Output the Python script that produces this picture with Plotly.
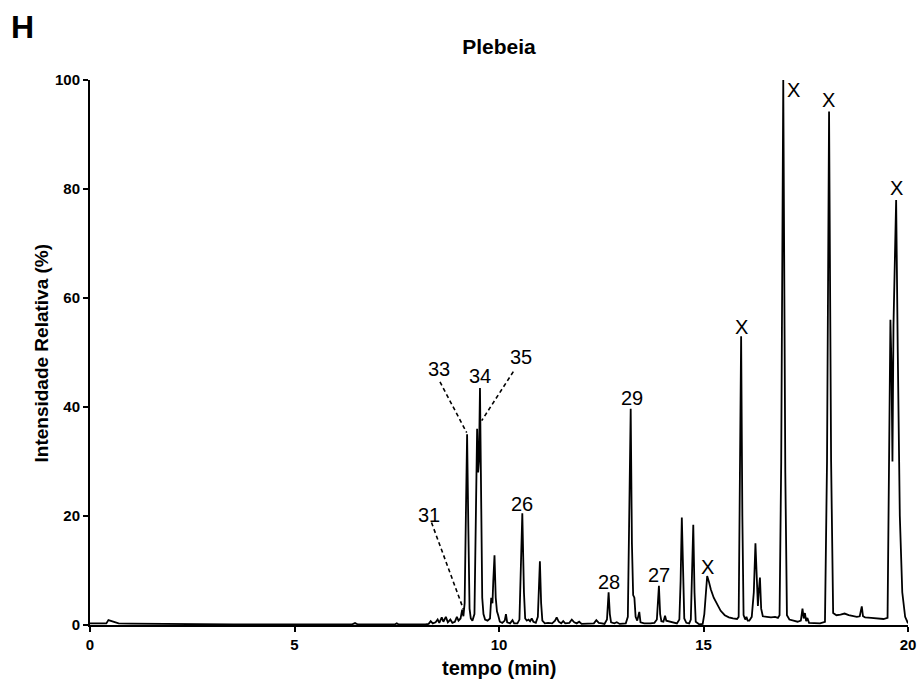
import plotly.graph_objects as go

# ---- chromatogram ----
time_min = [
    0.00, 0.40, 0.45, 0.50, 0.58, 0.70, 1.00, 1.50, 2.50, 3.50, 4.50, 5.50, 6.40, 6.48, 6.55, 7.00, 7.45, 7.50, 7.55, 8.20,
    8.28, 8.33, 8.38, 8.45, 8.50, 8.54, 8.60, 8.64, 8.70, 8.75, 8.81, 8.86, 8.92, 8.97, 9.01, 9.06, 9.10, 9.13,
    9.16, 9.19, 9.22, 9.25, 9.28, 9.31, 9.35,
    9.40, 9.43, 9.465, 9.49, 9.51, 9.535, 9.56, 9.59, 9.62,
    9.66, 9.72, 9.78, 9.81, 9.84,
    9.86, 9.89, 9.92, 9.95, 9.98, 10.02, 10.08, 10.14, 10.17, 10.20, 10.27, 10.33, 10.37, 10.45, 10.50,
    10.53, 10.57, 10.61, 10.64, 10.68, 10.72, 10.76, 10.80, 10.84, 10.90, 10.95,
    10.97, 11.00, 11.03, 11.06, 11.12, 11.20, 11.30, 11.37, 11.41, 11.46, 11.52, 11.57, 11.62, 11.72, 11.78, 11.84,
    11.90, 11.96, 12.02, 12.20, 12.32, 12.38, 12.44, 12.52, 12.58, 12.64,
    12.66, 12.68, 12.71, 12.74, 12.82, 12.88, 12.95, 13.10, 13.15,
    13.18, 13.22, 13.25, 13.28, 13.31, 13.34, 13.38, 13.43, 13.46, 13.55, 13.70, 13.80, 13.86,
    13.89, 13.91, 13.94, 13.97, 14.02, 14.06, 14.09, 14.15, 14.25, 14.35, 14.41,
    14.44, 14.47, 14.50, 14.53, 14.58, 14.65, 14.69,
    14.72, 14.75, 14.78, 14.81, 14.90, 14.98, 15.02,
    15.05, 15.09, 15.13, 15.18, 15.25, 15.33, 15.42, 15.52, 15.62, 15.72, 15.82,
    15.86, 15.89, 15.92, 15.95, 15.98, 16.02, 16.05, 16.08, 16.12, 16.18,
    16.23, 16.27, 16.30, 16.33, 16.35, 16.38, 16.41, 16.45, 16.55, 16.65, 16.75, 16.82, 16.86,
    16.90, 16.95, 17.00, 17.04, 17.10, 17.20, 17.30, 17.38, 17.42, 17.45, 17.48, 17.51, 17.54, 17.58, 17.70, 17.85, 17.97,
    18.02, 18.07, 18.12, 18.17, 18.25, 18.35, 18.45, 18.55, 18.65, 18.75, 18.82,
    18.85, 18.87, 18.90, 18.95, 19.10, 19.25, 19.40, 19.50,
    19.53, 19.57, 19.595, 19.62, 19.645, 19.68, 19.71, 19.75, 19.80, 19.86, 19.93, 20.00,
]
intensity = [
    0.3, 0.3, 0.9, 0.8, 0.5, 0.3, 0.25, 0.2, 0.1, 0.1, 0.1, 0.1, 0.1, 0.35, 0.1, 0.1, 0.1, 0.3, 0.1, 0.1,
    0.2, 0.7, 0.3, 0.5, 1.0, 0.4, 1.4, 0.6, 1.5, 0.5, 1.0, 0.4, 0.6, 1.5, 0.8, 1.2, 2.8, 1.6,
    4.0, 20.0, 35.0, 18.0, 3.0, 1.2, 0.8,
    2.0, 15.0, 36.0, 28.0, 30.0, 43.5, 22.0, 5.0, 2.0,
    1.0, 0.8, 1.2, 5.0, 4.0,
    8.0, 12.8, 5.0, 2.5, 1.8, 0.6, 0.4, 0.8, 2.0, 0.5, 0.3, 0.9, 0.3, 0.3, 1.0,
    8.0, 20.5, 6.0, 1.2, 0.8, 1.0, 0.7, 1.2, 0.6, 0.4, 1.5,
    6.0, 11.7, 4.0, 0.8, 0.3, 0.4, 0.3, 0.8, 1.4, 0.6, 0.3, 0.7, 0.3, 0.4, 1.0, 0.5,
    0.3, 0.6, 0.2, 0.2, 0.3, 0.9, 0.4, 0.3, 0.2, 1.0,
    4.0, 6.0, 2.0, 0.5, 0.3, 0.5, 0.2, 0.3, 1.5,
    20.0, 39.7, 15.0, 5.5, 5.0, 1.5, 0.8, 2.4, 0.5, 0.3, 0.3, 0.4, 1.0,
    5.0, 7.2, 2.0, 0.7, 0.6, 1.7, 0.8, 0.7, 0.5, 0.3, 1.0,
    8.0, 19.7, 8.0, 1.2, 0.4, 0.3, 1.0,
    8.0, 18.4, 6.0, 0.6, 0.1, 0.2, 2.0,
    6.0, 9.0, 8.0, 6.5, 5.0, 3.8, 2.6, 1.8, 1.4, 1.2, 1.1,
    1.5, 22.0, 53.0, 20.0, 1.8, 1.0, 1.5, 0.8, 0.8, 1.5,
    6.0, 15.0, 7.0, 3.5, 6.0, 8.7, 3.0, 1.6, 1.5, 1.4, 1.5, 1.3, 1.8,
    30.0, 100.0, 28.0, 1.8, 1.0, 0.8, 0.6, 0.8, 3.0, 1.2, 2.2, 0.7, 1.3, 0.4, 0.3, 0.3, 0.6,
    30.0, 94.2, 30.0, 2.2, 1.8, 1.9, 2.1, 1.8, 1.7, 1.5, 1.6,
    3.0, 3.4, 1.6, 1.4, 1.3, 1.2, 1.1, 1.3,
    25.0, 56.0, 48.0, 30.0, 55.0, 72.0, 78.0, 50.0, 20.0, 6.0, 1.5, 0.3,
]

# ---- peak labels ----
label_text = ["31", "33", "34", "35", "26", "28", "29", "27", "X", "X", "X", "X", "X"]
label_time = [8.30, 8.53, 9.535, 10.53, 10.55, 12.68, 13.24, 13.92, 15.09, 15.92, 17.19, 18.05, 19.71]
label_int = [20.2, 46.9, 45.7, 49.1, 22.2, 7.8, 41.6, 9.1, 10.7, 54.7, 98.2, 96.3, 80.1]

# ---- dashed leader lines (label -> peak) ----
leader_x0 = [8.35, 8.557, 10.35]
leader_y0 = [18.8, 44.6, 46.5]
leader_x1 = [9.13, 9.21, 9.577]
leader_y1 = [2.9, 35.3, 37.5]

x_ticks = [0, 5, 10, 15, 20]
y_ticks = [0, 20, 40, 60, 80, 100]

FONT = "Liberation Sans, Arial, Helvetica, sans-serif"

fig = go.Figure()
fig.add_trace(go.Scatter(
    x=time_min, y=intensity, mode="lines",
    line=dict(color="black", width=1.8),
    hoverinfo="skip", showlegend=False,
))

for t, xx, yy in zip(label_text, label_time, label_int):
    fig.add_annotation(x=xx, y=yy, xref="x", yref="y", text=t, showarrow=False,
                       xanchor="center", yanchor="middle",
                       font=dict(family=FONT, size=20, color="black"))

for x0, y0, x1, y1 in zip(leader_x0, leader_y0, leader_x1, leader_y1):
    fig.add_shape(type="line", x0=x0, y0=y0, x1=x1, y1=y1, xref="x", yref="y",
                  line=dict(color="black", width=1.6, dash="4px,3px"))

# panel letter, axis titles
fig.add_annotation(text="<b>H</b>", xref="paper", yref="paper", x=-0.0831, y=1.098,
                   xanchor="center", yanchor="middle", showarrow=False,
                   font=dict(family=FONT, size=32, color="black"))
fig.add_annotation(text="<b>Intensidade Relativa (%)</b>", xref="paper", yref="paper",
                   x=-0.0587, y=0.5, textangle=-90, xanchor="center", yanchor="middle",
                   showarrow=False, font=dict(family=FONT, size=19, color="black"))
fig.add_annotation(text="<b>tempo (min)</b>", xref="paper", yref="paper",
                   x=0.5, y=-0.079, xanchor="center", yanchor="middle",
                   showarrow=False, font=dict(family=FONT, size=20, color="black"))

fig.update_layout(
    template="none",
    width=922, height=679, autosize=False,
    margin=dict(l=90, r=14, t=80, b=54, pad=0),
    paper_bgcolor="white", plot_bgcolor="white",
    font=dict(family=FONT, color="black"),
    title=dict(text="<b>Plebeia</b>", x=0.5, xref="paper", y=1 - 47 / 679, yref="container",
               xanchor="center", yanchor="middle", font=dict(family=FONT, size=21, color="black")),
)
fig.update_xaxes(range=[0, 20], tickvals=x_ticks, ticktext=[f"<b>{v}</b>" for v in x_ticks],
                 ticks="outside", ticklen=5, tickwidth=2, tickcolor="black", automargin=False,
                 showline=True, linewidth=2, linecolor="black", showgrid=False, zeroline=False,
                 tickfont=dict(family=FONT, size=15, color="black"))
fig.update_yaxes(range=[0, 100], tickvals=y_ticks, ticktext=[f"<b>{v}</b>" for v in y_ticks],
                 ticks="outside", ticklen=5, tickwidth=2, tickcolor="black", automargin=False,
                 showline=True, linewidth=2, linecolor="black", showgrid=False, zeroline=False,
                 tickfont=dict(family=FONT, size=15, color="black"))

# remove the default page margin so the 922x679 figure fills the window exactly
fig.write_html("out.html",
               config={"displayModeBar": False},
               post_script="document.body.style.margin='0';document.body.style.overflow='hidden';")
